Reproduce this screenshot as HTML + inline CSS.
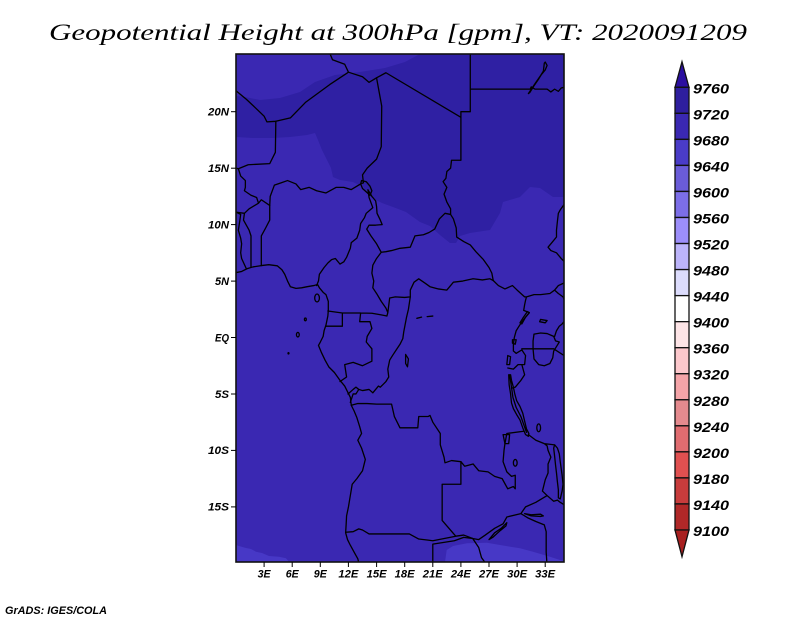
<!DOCTYPE html>
<html>
<head>
<meta charset="utf-8">
<style>
html,body{margin:0;padding:0;background:#fff;}
svg{display:block;}
.t{font-family:"Liberation Serif",serif;font-style:italic;}
.l{font-family:"Liberation Sans",sans-serif;font-style:italic;font-weight:bold;}
</style>
</head>
<body>
<svg width="800" height="618" viewBox="0 0 800 618" xmlns="http://www.w3.org/2000/svg">
<rect width="800" height="618" fill="#fff"/>

<!-- Title -->
<text class="t" x="49" y="40" font-size="23" textLength="698" lengthAdjust="spacingAndGlyphs" fill="#000">Geopotential Height at 300hPa [gpm], VT: 2020091209</text>

<defs><clipPath id="mc"><rect x="236" y="54" width="328" height="508"/></clipPath></defs>

<g clip-path="url(#mc)">
  <rect x="236" y="54" width="328" height="508" fill="#3a28b2"/>
  <!-- dark region -->
  <polygon fill="#2f20a3" points="420,54 564,54 564,197 553,197 540,188 530,187 520,197 503,202 500,213 490,230 470,233 460,236 456,243 450,243 440,235 430,226 420,222 406,212 393,207 382,203 370,197 363,187 353,182 340,180 333,177 331,168 327,160 322,150 318,140 315,133 307,135 290,137 273,138 253,138 236,137 236,96 245,97 260,100 280,98 300,92 315,82 335,75 360,72 385,68 405,62"/>
  <!-- light bottom regions -->
  <polygon fill="#4738c6" points="236,545 239,546 246,548 251,549 256,551.7 262,553 269,556 279,556.7 286,558.3 289,562 236,562"/>
  <polygon fill="#4738c6" points="445,562 446.7,550 453,546 467,543.3 487,542.7 500,545 520,548.3 533,551.7 550,556.7 560,560 564,561 564,562"/>

  <g transform="translate(236 337.5) scale(9.371 -11.29)" fill="none" stroke="#000" stroke-width="1.3" stroke-linejoin="round" stroke-linecap="round">
    <g>
    <path vector-effect="non-scaling-stroke" d="M0,5.75 L0.6,5.85 1.2,6.1 1.8,6.25 2.7,6.37 3.5,6.45 4.4,6.35 4.9,6.0 5.2,5.6 5.5,5.0 5.8,4.5 6.4,4.35 7.0,4.4 7.6,4.5 8.3,4.6 8.7,4.7 8.9,4.4 9.3,4.0 9.6,3.8 9.85,3.2 9.85,2.4 9.8,1.9 9.6,1.1 9.4,0.6 9.3,0.1 9.0,-0.4 8.8,-0.7 9.1,-1.3 9.5,-2.0 9.9,-2.6 10.5,-3.1 11.1,-3.8 11.6,-4.3 11.9,-4.8 12.2,-5.3 12.3,-6.0 12.6,-6.5 12.9,-7.1 13.2,-7.9 13.4,-8.5 13.0,-9.1 13.4,-9.8 13.8,-10.8 13.5,-11.8 12.9,-12.5 12.4,-13.0 12.2,-14.0 12.0,-15.0 11.8,-15.8 11.75,-16.6 11.7,-17.3 11.9,-17.9 12.2,-18.4 12.6,-19.0 13.0,-19.6 13.2,-20.3"/>
    <path vector-effect="non-scaling-stroke" d="M0,21.85 L1.1,21.1 2.0,20.4 3.0,19.6 3.3,19.1 4.25,19.15 M4.25,19.15 L5.8,19.45 7.45,20.85 10.0,22.4 12.0,23.5 M12.0,23.5 L11.6,24.2 10.3,24.6 10.0,25.2 M12.0,23.5 L13.5,23.1 14.2,22.6 15.0,23.0 M15.0,23.0 L16.0,23.45 24.0,19.5 M24.0,19.5 L24.0,20.0 25.0,20.0 25.0,25.2 M25.0,22.0 L31.4,22.0 31.5,22.2 31.9,22.0 33.2,22.0 33.6,21.75 34.0,22.0 34.4,21.8 34.7,22.1 35.2,22.2"/>
    <path vector-effect="non-scaling-stroke" d="M32.9,24.3 L32.8,23.6 32.5,23.2 32.0,22.6 31.6,22.1 31.2,21.6 31.35,21.7 31.8,22.3 32.3,22.9 32.6,23.3 33.0,23.7 33.2,24.1 33.0,24.4Z"/>
    <path vector-effect="non-scaling-stroke" d="M4.25,19.15 L4.2,16.4 3.6,15.4 1.3,15.3 0.25,14.95 0,15.0 M0.25,14.95 L0.5,14.3 1.0,13.9 1.0,13.3 0.9,13.0 1.6,12.6 2.2,12.4 2.4,11.9 M2.4,11.9 L2.7,12.2 3.6,11.7 M2.4,11.9 L1.4,11.4 0.9,11.0 0,11.1 M0,11.1 L0.5,10.9 0.4,10.3 0.25,9.5 0.5,8.8 0.6,8.3 0.5,7.5 0.6,7.0 1.1,6.1 M0.9,11.0 L0.8,10.4 1.4,9.5 1.6,9.0 1.6,6.25 M3.6,11.7 L3.6,10.4 3.1,9.6 2.7,9.0 2.7,7.8 2.7,6.37"/>
    <path vector-effect="non-scaling-stroke" d="M3.6,11.7 L3.65,12.5 4.1,13.5 4.8,13.7 5.5,13.9 6.4,13.6 6.9,13.1 7.8,13.3 8.6,13.0 9.6,12.8 10.7,13.3 11.5,13.3 12.3,13.1 13.3,13.6 13.6,13.7 M13.6,13.7 L13.5,14.4 14.0,15.0 15.0,15.8 15.5,16.9 15.55,20.5 15.0,23.0"/>
    <path vector-effect="non-scaling-stroke" d="M13.4,13.9 L13.9,13.8 14.3,13.4 14.5,13.0 14.3,12.6 13.9,12.9 13.5,13.2 13.3,13.6Z"/>
    <path vector-effect="non-scaling-stroke" d="M14.08,13.08 L14.2,12.4 14.6,11.5 13.9,11.0 13.7,10.6 13.3,10.1 13.2,9.5 12.9,8.8 12.3,8.4 12.2,7.9 11.8,7.1 11.5,6.7 11.1,6.5 10.6,7.0 10.2,6.9 9.8,6.6 9.4,6.2 8.9,5.6 8.8,5.0 8.6,4.6 M14.08,13.08 L14.5,12.5 14.9,12.1 15.0,11.6 15.05,11.0 15.4,10.4 15.6,10.0 14.9,9.95 14.2,9.95 13.95,9.6 14.4,9.0 15.0,8.3 15.5,7.55 M15.5,7.55 L16.0,7.6 16.6,7.7 17.5,7.9 18.6,8.0 19.1,9.0 20.0,9.1 20.6,9.3 21.2,9.6 21.7,10.5 22.3,11.0 22.9,10.9 M22.9,10.9 L22.9,11.4 22.5,12.0 22.2,12.7 22.5,13.3 22.1,13.8 22.4,14.1 22.5,14.7 22.9,15.0 23.0,15.7 24.0,15.7 24.0,19.5 M22.9,10.9 L23.2,10.5 23.5,9.7 23.55,8.9 24.3,8.5 25.0,8.2 25.6,7.6 26.4,6.9 27.0,6.2 27.3,5.7 27.45,5.05"/>
    <path vector-effect="non-scaling-stroke" d="M15.5,7.55 L15.0,7.0 14.6,6.4 14.5,5.7 14.7,5.0 14.6,4.4 15.0,3.9 15.5,3.2 16.0,2.6 16.2,2.2 M9.8,2.35 L11.35,2.17 13.3,2.17 14.5,2.15 15.5,2.0 16.1,1.9 16.2,2.2 M16.2,2.2 L16.4,3.5 17.0,3.6 18.0,3.55 18.6,3.6 M18.6,3.6 L18.6,4.2 19.0,4.9 19.5,5.2 20.2,4.8 20.7,4.5 21.6,4.3 22.5,4.2 23.2,4.9 24.2,5.0 25.3,5.2 26.3,5.1 27.1,5.2 27.45,5.05 M11.35,2.17 L11.35,1.0 9.6,1.0 M13.3,2.17 L13.2,1.4 14.3,1.4 14.5,0.8 14.0,0.1 13.9,-0.4 14.5,-1.0 14.5,-2.1 14.0,-2.3 13.5,-2.5 12.5,-2.2 11.6,-2.4 11.8,-3.5 11.1,-3.9"/>
    <path vector-effect="non-scaling-stroke" d="M18.6,3.6 L18.4,2.5 18.2,1.8 17.9,0.5 17.8,-0.1 17.5,-0.6 17.1,-1.1 16.7,-1.6 16.4,-2.0 16.2,-2.8 16.3,-3.5 16.0,-3.9 15.4,-4.4 15.2,-4.3 14.6,-4.9 14.2,-4.6 13.5,-4.7 13.1,-4.6 M11.95,-5.0 L12.5,-4.6 12.8,-4.4 13.1,-4.6 12.8,-5.0 12.5,-5.0 12.2,-5.75 M12.3,-6.0 L13.0,-5.85 14.0,-5.85 15.0,-5.9 16.6,-5.9 16.9,-7.0 17.5,-8.0 18.5,-8.0 19.4,-8.0 19.5,-7.0 20.5,-7.0 20.7,-6.9 21.0,-7.5 21.8,-8.5 21.8,-9.5 22.2,-10.6 22.3,-11.1 23.0,-10.9 24.0,-11.0"/>
    <path vector-effect="non-scaling-stroke" d="M24.0,-11.0 L24.0,-13.0 22.0,-13.0 22.0,-16.2 23.45,-17.6 M11.7,-17.25 L12.5,-17.2 13.1,-16.95 13.5,-17.05 14.2,-17.4 18.5,-17.4 19.5,-17.85 20.5,-17.95 21.0,-18.0 23.45,-17.6 M23.45,-17.6 L24.3,-17.5 25.26,-17.8 M21.0,-20.5 L21.0,-18.3 23.3,-18.0 24.3,-17.7 25.26,-17.8 M25.26,-17.8 L25.9,-18.6 26.2,-19.5 26.9,-20.3 M25.26,-17.8 L25.9,-17.9 26.6,-17.5 27.6,-16.9 28.5,-16.5 28.9,-15.9 30.4,-15.6 M30.4,-15.6 L31.2,-16.0 32.0,-16.3 32.9,-16.6 33.1,-17.2 33.1,-18.0 33.1,-19.0 33.2,-20.3 M30.4,-15.6 L30.9,-15.0 32.0,-14.6 33.2,-14.0 M33.2,-14.0 L32.7,-13.6 33.0,-12.6 33.3,-12.0 33.3,-11.2 33.6,-10.6 33.3,-10.0 33.2,-9.6 32.9,-9.4 M33.2,-14.0 L33.9,-14.5 34.3,-14.4 34.6,-14.6 35.2,-14.9 M31.2,-8.6 L32.0,-9.1 32.9,-9.4 33.9,-9.5"/>
    <path vector-effect="non-scaling-stroke" d="M24.0,-11.0 L24.4,-11.4 25.3,-11.2 25.9,-11.8 26.9,-11.9 27.6,-12.3 28.4,-12.5 29.0,-13.4 29.6,-13.2 29.8,-13.4 29.8,-12.2 29.4,-12.3 28.9,-11.9 28.5,-11.0 28.6,-10.0 28.7,-9.4 28.9,-8.5 30.7,-8.3"/>
    <path vector-effect="non-scaling-stroke" d="M29.1,-3.3 L29.15,-4.2 29.3,-5.0 29.4,-5.8 29.6,-6.3 30.0,-6.9 30.3,-7.3 30.6,-8.0 30.9,-8.6 31.2,-8.75 31.25,-8.5 31.0,-8.1 30.8,-7.4 30.6,-6.7 30.3,-6.1 29.95,-5.6 29.75,-5.0 29.6,-4.4 29.4,-3.8 29.3,-3.3Z M29.2,-3.3 L29.4,-4.4 29.55,-5.3 29.9,-6.2 30.4,-7.0 30.7,-7.7 31.0,-8.4"/>
    <path vector-effect="non-scaling-stroke" d="M27.45,5.05 L28.0,4.6 28.7,4.3 29.5,4.6 30.0,4.2 30.8,3.6 31.0,3.6 M31.0,3.6 L31.8,3.8 32.5,3.8 33.5,3.9 34.0,4.2 34.4,4.6 35.2,4.9 M34.0,4.2 L34.4,3.9 34.9,3.6 35.2,3.0 M35.2,1.6 L34.8,1.2 34.5,1.0 34.2,0.6 34.0,0.1 M31.0,3.6 L30.9,3.3 30.8,2.9 30.7,2.4 31.3,2.2 30.6,1.5 30.2,1.0 29.9,0.6 29.7,0.0 29.6,-0.6 29.6,-1.2 29.9,-1.4 M35.2,12.0 L34.6,11.3 34.4,11.0 34.3,10.3 34.2,9.5 34.2,8.9 33.7,8.4 33.3,8.0 33.6,7.7 34.2,7.5 34.7,7.0 35.2,6.6"/>
    <path vector-effect="non-scaling-stroke" d="M29.9,-1.4 L30.5,-1.1 30.9,-1.6 30.8,-2.4 30.5,-2.4 30.8,-3.3 30.4,-3.8 29.8,-4.4 29.4,-4.5 M29.0,-2.7 L29.6,-2.8 30.1,-2.4 30.5,-2.4 M30.5,-1.0 L33.9,-1.0 35.2,-1.7"/>
    <path vector-effect="non-scaling-stroke" d="M31.8,0.3 L32.5,0.4 33.2,0.35 33.9,0.1 34.1,-0.3 34.5,-0.4 34.2,-0.8 33.9,-1.2 33.8,-1.8 33.5,-2.3 32.9,-2.5 32.3,-2.4 31.8,-1.9 31.7,-1.0 31.7,-0.3Z"/>
    <path vector-effect="non-scaling-stroke" d="M29.0,-1.6 L29.3,-1.7 29.2,-2.4 28.9,-2.4Z M30.5,1.2 L30.9,1.8 31.3,2.2 31.1,2.3 30.6,1.7 30.3,1.3Z M29.5,-0.2 L29.9,-0.2 29.8,-0.6 29.5,-0.5Z M32.5,1.6 L33.2,1.5 33.0,1.3 32.4,1.4Z M28.5,-8.6 L29.2,-8.6 29.1,-9.4 28.7,-9.4Z M34.0,-9.5 L34.3,-9.8 34.5,-10.3 34.6,-11.0 34.7,-11.6 34.8,-12.2 34.9,-13.0 34.8,-13.6 34.6,-14.3 34.4,-14.2 34.4,-13.5 34.3,-12.8 34.2,-12.0 34.1,-11.3 34.0,-10.5 33.9,-9.8Z M27.0,-17.9 L27.6,-17.3 28.3,-16.9 28.9,-16.4 28.8,-16.7 28.2,-17.1 27.4,-17.7Z M30.8,-15.6 L31.5,-15.7 32.5,-15.65 32.8,-15.8 32.5,-15.85 31.5,-15.8Z M18.1,-1.5 L18.4,-1.9 18.3,-2.6 18.1,-2.3Z M19.3,1.7 L19.8,1.8 M20.4,1.85 L21.0,1.9"/>
    <ellipse vector-effect="non-scaling-stroke" cx="29.8" cy="-11.1" rx="0.2" ry="0.3"/>
    <ellipse vector-effect="non-scaling-stroke" cx="32.3" cy="-8.0" rx="0.2" ry="0.35"/>
    <ellipse vector-effect="non-scaling-stroke" cx="8.65" cy="3.5" rx="0.25" ry="0.35"/>
    <ellipse vector-effect="non-scaling-stroke" cx="7.4" cy="1.6" rx="0.1" ry="0.12"/>
    <ellipse vector-effect="non-scaling-stroke" cx="6.6" cy="0.25" rx="0.15" ry="0.2"/>
    <ellipse vector-effect="non-scaling-stroke" cx="5.6" cy="-1.4" rx="0.05" ry="0.06"/>
    </g>
  </g>
</g>
<rect x="236" y="54" width="328" height="508" fill="none" stroke="#111" stroke-width="1.6"/>

<!-- ticks -->
<g stroke="#000" stroke-width="1">
  <line x1="231" y1="111.7" x2="236" y2="111.7"/>
  <line x1="231" y1="168.2" x2="236" y2="168.2"/>
  <line x1="231" y1="224.6" x2="236" y2="224.6"/>
  <line x1="231" y1="281.1" x2="236" y2="281.1"/>
  <line x1="231" y1="337.5" x2="236" y2="337.5"/>
  <line x1="231" y1="394" x2="236" y2="394"/>
  <line x1="231" y1="450.4" x2="236" y2="450.4"/>
  <line x1="231" y1="506.9" x2="236" y2="506.9"/>
  <line x1="264.1" y1="562" x2="264.1" y2="567"/>
  <line x1="292.2" y1="562" x2="292.2" y2="567"/>
  <line x1="320.3" y1="562" x2="320.3" y2="567"/>
  <line x1="348.4" y1="562" x2="348.4" y2="567"/>
  <line x1="376.6" y1="562" x2="376.6" y2="567"/>
  <line x1="404.7" y1="562" x2="404.7" y2="567"/>
  <line x1="432.8" y1="562" x2="432.8" y2="567"/>
  <line x1="460.9" y1="562" x2="460.9" y2="567"/>
  <line x1="489" y1="562" x2="489" y2="567"/>
  <line x1="517.1" y1="562" x2="517.1" y2="567"/>
  <line x1="545.2" y1="562" x2="545.2" y2="567"/>
</g>
<g class="l" font-size="11" fill="#000" text-anchor="end">
  <text x="229" y="115.5" textLength="21" lengthAdjust="spacingAndGlyphs">20N</text>
  <text x="229" y="172" textLength="21" lengthAdjust="spacingAndGlyphs">15N</text>
  <text x="229" y="228.4" textLength="21" lengthAdjust="spacingAndGlyphs">10N</text>
  <text x="229" y="284.9" textLength="14" lengthAdjust="spacingAndGlyphs">5N</text>
  <text x="229" y="341.3" textLength="14" lengthAdjust="spacingAndGlyphs">EQ</text>
  <text x="229" y="397.8" textLength="14" lengthAdjust="spacingAndGlyphs">5S</text>
  <text x="229" y="454.2" textLength="21" lengthAdjust="spacingAndGlyphs">10S</text>
  <text x="229" y="510.7" textLength="21" lengthAdjust="spacingAndGlyphs">15S</text>
</g>
<g class="l" font-size="11" fill="#000" text-anchor="middle">
  <text x="264.1" y="577.5" textLength="13" lengthAdjust="spacingAndGlyphs">3E</text>
  <text x="292.2" y="577.5" textLength="13" lengthAdjust="spacingAndGlyphs">6E</text>
  <text x="320.3" y="577.5" textLength="13" lengthAdjust="spacingAndGlyphs">9E</text>
  <text x="348.4" y="577.5" textLength="20" lengthAdjust="spacingAndGlyphs">12E</text>
  <text x="376.6" y="577.5" textLength="20" lengthAdjust="spacingAndGlyphs">15E</text>
  <text x="404.7" y="577.5" textLength="20" lengthAdjust="spacingAndGlyphs">18E</text>
  <text x="432.8" y="577.5" textLength="20" lengthAdjust="spacingAndGlyphs">21E</text>
  <text x="460.9" y="577.5" textLength="20" lengthAdjust="spacingAndGlyphs">24E</text>
  <text x="489" y="577.5" textLength="20" lengthAdjust="spacingAndGlyphs">27E</text>
  <text x="517.1" y="577.5" textLength="20" lengthAdjust="spacingAndGlyphs">30E</text>
  <text x="545.2" y="577.5" textLength="20" lengthAdjust="spacingAndGlyphs">33E</text>
</g>

<!-- Colorbar -->
<g stroke="#111" stroke-width="1.3">
  <polygon points="675,87.3 689,87.3 682,61.7" fill="#2b0fa0"/>
  <rect x="675" y="87.3" width="14" height="26.04" fill="#2e1e9e"/>
  <rect x="675" y="113.34" width="14" height="26.04" fill="#3a28b2"/>
  <rect x="675" y="139.38" width="14" height="26.04" fill="#4a3cc8"/>
  <rect x="675" y="165.42" width="14" height="26.04" fill="#6a5cd8"/>
  <rect x="675" y="191.46" width="14" height="26.04" fill="#7c6ee8"/>
  <rect x="675" y="217.5" width="14" height="26.04" fill="#9c8efa"/>
  <rect x="675" y="243.54" width="14" height="26.04" fill="#bcb4fa"/>
  <rect x="675" y="269.58" width="14" height="26.04" fill="#dcdcfc"/>
  <rect x="675" y="295.62" width="14" height="26.04" fill="#ffffff"/>
  <rect x="675" y="321.66" width="14" height="26.04" fill="#fde4e6"/>
  <rect x="675" y="347.7" width="14" height="26.04" fill="#fcc8cc"/>
  <rect x="675" y="373.74" width="14" height="26.04" fill="#f4a4a8"/>
  <rect x="675" y="399.78" width="14" height="26.04" fill="#e48a8e"/>
  <rect x="675" y="425.82" width="14" height="26.04" fill="#e06c70"/>
  <rect x="675" y="451.86" width="14" height="26.04" fill="#e05050"/>
  <rect x="675" y="477.9" width="14" height="26.04" fill="#c83c3c"/>
  <rect x="675" y="503.94" width="14" height="26.06" fill="#b02828"/>
  <polygon points="675,530 689,530 682,556.7" fill="#a82020"/>
</g>
<g class="l" font-size="14" fill="#000">
  <text x="693" y="93.3" textLength="36" lengthAdjust="spacingAndGlyphs">9760</text>
  <text x="693" y="119.3" textLength="36" lengthAdjust="spacingAndGlyphs">9720</text>
  <text x="693" y="145.4" textLength="36" lengthAdjust="spacingAndGlyphs">9680</text>
  <text x="693" y="171.4" textLength="36" lengthAdjust="spacingAndGlyphs">9640</text>
  <text x="693" y="197.5" textLength="36" lengthAdjust="spacingAndGlyphs">9600</text>
  <text x="693" y="223.5" textLength="36" lengthAdjust="spacingAndGlyphs">9560</text>
  <text x="693" y="249.5" textLength="36" lengthAdjust="spacingAndGlyphs">9520</text>
  <text x="693" y="275.6" textLength="36" lengthAdjust="spacingAndGlyphs">9480</text>
  <text x="693" y="301.6" textLength="36" lengthAdjust="spacingAndGlyphs">9440</text>
  <text x="693" y="327.7" textLength="36" lengthAdjust="spacingAndGlyphs">9400</text>
  <text x="693" y="353.7" textLength="36" lengthAdjust="spacingAndGlyphs">9360</text>
  <text x="693" y="379.7" textLength="36" lengthAdjust="spacingAndGlyphs">9320</text>
  <text x="693" y="405.8" textLength="36" lengthAdjust="spacingAndGlyphs">9280</text>
  <text x="693" y="431.8" textLength="36" lengthAdjust="spacingAndGlyphs">9240</text>
  <text x="693" y="457.9" textLength="36" lengthAdjust="spacingAndGlyphs">9200</text>
  <text x="693" y="483.9" textLength="36" lengthAdjust="spacingAndGlyphs">9180</text>
  <text x="693" y="509.9" textLength="36" lengthAdjust="spacingAndGlyphs">9140</text>
  <text x="693" y="536" textLength="36" lengthAdjust="spacingAndGlyphs">9100</text>
</g>

<text class="l" x="5" y="614" font-size="11" textLength="102" lengthAdjust="spacingAndGlyphs" fill="#000">GrADS: IGES/COLA</text>
</svg>
</body>
</html>
